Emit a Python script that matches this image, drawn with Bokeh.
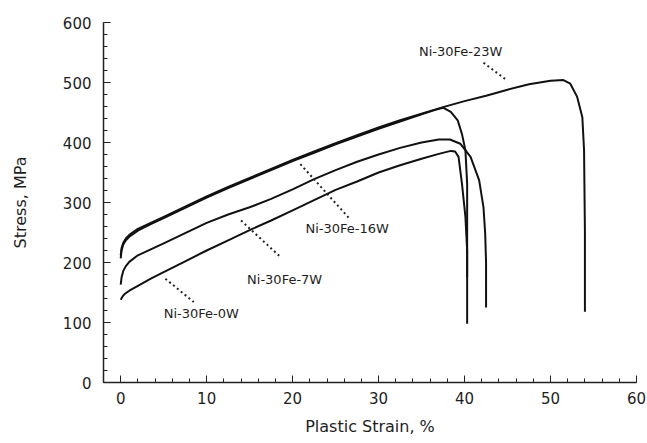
from bokeh.plotting import figure
from bokeh.models import FixedTicker, ColumnDataSource
from bokeh.core.properties import value
from bokeh.embed import file_html
from bokeh.resources import INLINE

# ---- data ----
strain_0w = [0, 0.2, 0.5, 1, 2, 3.5, 5, 7.5, 10, 12.5, 15, 17.5, 20, 22.5, 25, 27.5, 30, 32.5, 35, 37,
             38.4, 38.9, 39.3, 39.7, 40.1, 40.3, 40.3]
stress_0w = [138, 143, 148, 153, 161, 173, 184, 202, 220, 237, 254, 270, 287, 304, 321, 335, 350, 362, 373, 381,
             386, 385, 376, 331, 276, 220, 175]

strain_7w = [0, 0.1, 0.3, 0.6, 1, 2, 3.5, 5, 7.5, 10, 12.5, 15, 17.5, 20, 22.5, 25, 27.5, 30, 32.5, 35, 37,
             38.3, 39.5, 40.7, 41.7, 42.2, 42.4, 42.5, 42.5]
stress_7w = [163, 175, 186, 194, 201, 212, 222, 232, 249, 266, 280, 292, 306, 322, 339, 354, 368, 380, 391, 400, 405,
             405, 398, 376, 337, 292, 248, 200, 125]

strain_16w = [0, 0.1, 0.3, 0.6, 1, 2, 3.5, 5, 7.5, 10, 12.5, 15, 17.5, 20, 22.5, 25, 27.5, 30, 32.5, 35, 36.5,
              37.5, 38.4, 39.2, 39.7, 40.1, 40.3, 40.3]
stress_16w = [207, 220, 230, 237, 243, 253, 264, 274, 291, 308, 324, 339, 354, 369, 383, 397, 410, 423, 435, 447, 454,
              458, 451, 437, 414, 387, 331, 98]

strain_23w = [0, 0.1, 0.3, 0.6, 1, 2, 3.5, 5, 7.5, 10, 12.5, 15, 17.5, 20, 22.5, 25, 27.5, 30, 32.5, 35, 37.5,
              40, 42.5, 45, 47.5, 50, 51.5, 52.3, 53.1, 53.7, 53.9, 54.0, 54.0]
stress_23w = [212, 224, 233, 240, 246, 256, 266, 276, 293, 310, 326, 341, 356, 371, 385, 399, 412, 425, 437, 448, 459,
              469, 478, 488, 497, 503, 504, 498, 476, 442, 387, 250, 118]

label_names = ["Ni-30Fe-23W", "Ni-30Fe-16W", "Ni-30Fe-7W", "Ni-30Fe-0W"]
label_x = [34.7, 21.5, 14.7, 5.0]
label_y = [552, 257, 171, 115]
leader_x0 = [42.2, 20.9, 14.0, 5.2]
leader_y0 = [533, 364, 270, 173]
leader_x1 = [44.8, 26.5, 18.6, 8.5]
leader_y1 = [505, 275, 209, 134]

x_major = [0, 10, 20, 30, 40, 50, 60]
x_minor = list(range(0, 61, 2))
y_major = [0, 100, 200, 300, 400, 500, 600]
y_minor = list(range(0, 601, 20))

FONT = "DejaVu Sans"
TXT = "#1e1e1e"

p = figure(width=647, height=443, x_range=(-2, 60), y_range=(0, 600),
           output_backend="svg", toolbar_location=None,
           min_border_left=103, min_border_right=11, min_border_top=22, min_border_bottom=61)
p.outline_line_color = None
p.xgrid.visible = False
p.ygrid.visible = False

for s, v in [(strain_0w, stress_0w), (strain_7w, stress_7w), (strain_16w, stress_16w), (strain_23w, stress_23w)]:
    p.line(s, v, line_color="#111111", line_width=2)

for i in range(len(label_names)):
    p.line([leader_x0[i], leader_x1[i]], [leader_y0[i], leader_y1[i]], line_color="#222222",
           line_width=2, line_dash="2 3")

src = ColumnDataSource(dict(x=label_x, y=label_y, t=label_names))
p.text(x="x", y="y", text="t", source=src, text_font=value(FONT), text_font_size="13px",
       text_color=TXT, text_align="left", text_baseline="middle")

for ax in (p.xaxis[0], p.yaxis[0]):
    ax.major_label_text_font = FONT
    ax.major_label_text_font_size = "15px"
    ax.major_label_text_color = TXT
    ax.axis_label_text_font = FONT
    ax.axis_label_text_font_size = "16px"
    ax.axis_label_text_font_style = "normal"
    ax.axis_label_text_color = TXT
    ax.axis_line_color = "#222222"
    ax.axis_line_width = 1.5
    ax.major_tick_line_color = "#222222"
    ax.minor_tick_line_color = "#222222"
    ax.major_tick_in = 7
    ax.major_tick_out = 0
    ax.minor_tick_in = 4
    ax.minor_tick_out = 0

p.xaxis.ticker = FixedTicker(ticks=x_major, minor_ticks=x_minor)
p.yaxis.ticker = FixedTicker(ticks=y_major, minor_ticks=y_minor)
p.xaxis.axis_label = "Plastic Strain, %"
p.yaxis.axis_label = "Stress, MPa"
p.xaxis.major_label_standoff = 9
p.yaxis.major_label_standoff = 12
p.xaxis.axis_label_standoff = 10
p.yaxis.axis_label_standoff = 30

open("out.html", "w").write(file_html(p, INLINE))
